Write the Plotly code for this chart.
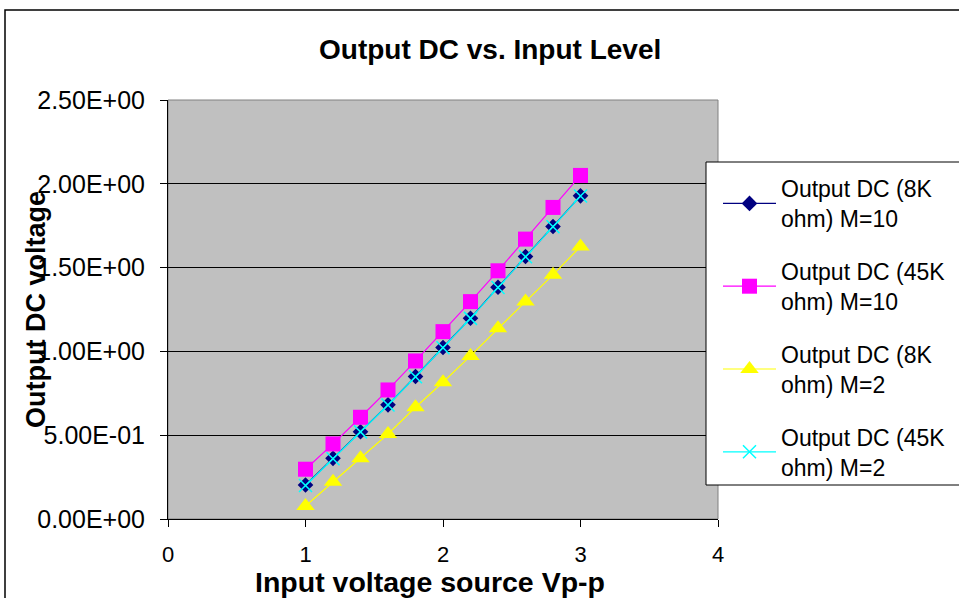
import plotly.graph_objects as go

x_vals = [1.0, 1.2, 1.4, 1.6, 1.8, 2.0, 2.2, 2.4, 2.6, 2.8, 3.0]
dc_8k_m10 = [0.203, 0.362, 0.521, 0.681, 0.850, 1.023, 1.198, 1.383, 1.566, 1.745, 1.928]
dc_45k_m10 = [0.297, 0.448, 0.607, 0.770, 0.943, 1.118, 1.297, 1.481, 1.670, 1.859, 2.050]
dc_8k_m2 = [0.078, 0.223, 0.362, 0.507, 0.667, 0.816, 0.973, 1.138, 1.297, 1.457, 1.626]
dc_45k_m2 = [0.200, 0.360, 0.520, 0.680, 0.849, 1.022, 1.197, 1.381, 1.565, 1.744, 1.927]

names = ["Output DC (8K<br>ohm) M=10", "Output DC (45K<br>ohm) M=10",
         "Output DC (8K<br>ohm) M=2", "Output DC (45K<br>ohm) M=2"]
y_ticks = [0, 0.5, 1.0, 1.5, 2.0, 2.5]
y_tick_text = ["0.00E+00", "5.00E-01", "1.00E+00", "1.50E+00", "2.00E+00", "2.50E+00"]
x_ticks = [0, 1, 2, 3, 4]

FONT = "Liberation Sans, Arial, sans-serif"

# plot area in pixels
L, R, T, B = 168, 718, 100, 519
W, H = 959, 598
pw, ph = R - L, B - T

def px(xp):
    return (xp - L) / pw

def py(yp):
    return (B - yp) / ph

fig = go.Figure()
specs = [
    (dc_8k_m10, "#000080", dict(symbol="diamond", size=12, color="#000080")),
    (dc_45k_m10, "#FF00FF", dict(symbol="square", size=15, color="#FF00FF")),
    (dc_8k_m2, "#FFFF00", dict(symbol="triangle-up", size=16, color="#FFFF00")),
    (dc_45k_m2, "#00FFFF", dict(symbol="x-thin", size=13, color="#00FFFF",
                               line=dict(color="#00FFFF", width=1.5))),
]
for i, (ys, col, mk) in enumerate(specs):
    fig.add_trace(go.Scatter(
        x=x_vals, y=ys, mode="lines+markers", name=names[i],
        line=dict(color=col, width=1.2), marker=mk,
        legendgroup=f"g{i}",
    ))

fig.update_layout(
    width=W, height=H,
    margin=dict(l=L, r=W - R, t=T, b=H - B, autoexpand=False),
    paper_bgcolor="white", plot_bgcolor="#C0C0C0",
    font=dict(family=FONT, size=24, color="black"),
    showlegend=True,
    legend=dict(
        x=px(718), y=py(167), xanchor="left", yanchor="top",
        bgcolor="rgba(0,0,0,0)", borderwidth=0,
        font=dict(family=FONT, size=23, color="black"),
        tracegroupgap=20, itemwidth=53, traceorder="grouped",
    ),
    xaxis=dict(
        range=[0, 4], tickvals=x_ticks, ticktext=[str(v) for v in x_ticks],
        showgrid=False, zeroline=False, showline=True, linecolor="black", linewidth=1,
        ticks="outside", ticklen=7, tickcolor="black", ticklabelstandoff=9,
        tickfont=dict(family=FONT, size=22), fixedrange=True,
    ),
    yaxis=dict(
        range=[0, 2.5], tickvals=y_ticks, ticktext=y_tick_text,
        showgrid=True, gridcolor="black", gridwidth=1, zeroline=False,
        showline=True, linecolor="black", linewidth=1,
        ticks="outside", ticklen=7, tickcolor="black", ticklabelstandoff=10,
        tickfont=dict(family=FONT, size=25), fixedrange=True,
    ),
    shapes=[
        dict(type="rect", xref="paper", yref="paper", x0=0, x1=1, y0=0, y1=1,
             line=dict(color="#808080", width=1), layer="below"),
        dict(type="rect", xref="paper", yref="paper",
             x0=px(5), x1=px(965), y0=py(604), y1=py(10),
             line=dict(color="black", width=1.5)),
        dict(type="rect", xref="paper", yref="paper", layer="above",
             x0=px(706), x1=px(975), y0=py(485), y1=py(162),
             fillcolor="white", line=dict(color="black", width=1)),
    ],
    annotations=[
        dict(text="<b>Output DC vs. Input Level</b>", xref="paper", yref="paper",
             x=px(490), y=py(50), showarrow=False, xanchor="center", yanchor="middle",
             font=dict(family=FONT, size=28)),
        dict(text="<b>Input voltage source Vp-p</b>", xref="paper", yref="paper",
             x=px(430), y=py(582), showarrow=False, xanchor="center", yanchor="middle",
             font=dict(family=FONT, size=28.5)),
        dict(text="<b>Output DC voltage</b>", xref="paper", yref="paper",
             x=px(36), y=py(310), showarrow=False, xanchor="center", yanchor="middle",
             textangle=-90, font=dict(family=FONT, size=27)),
    ],
)

fig.write_html("out.html")
